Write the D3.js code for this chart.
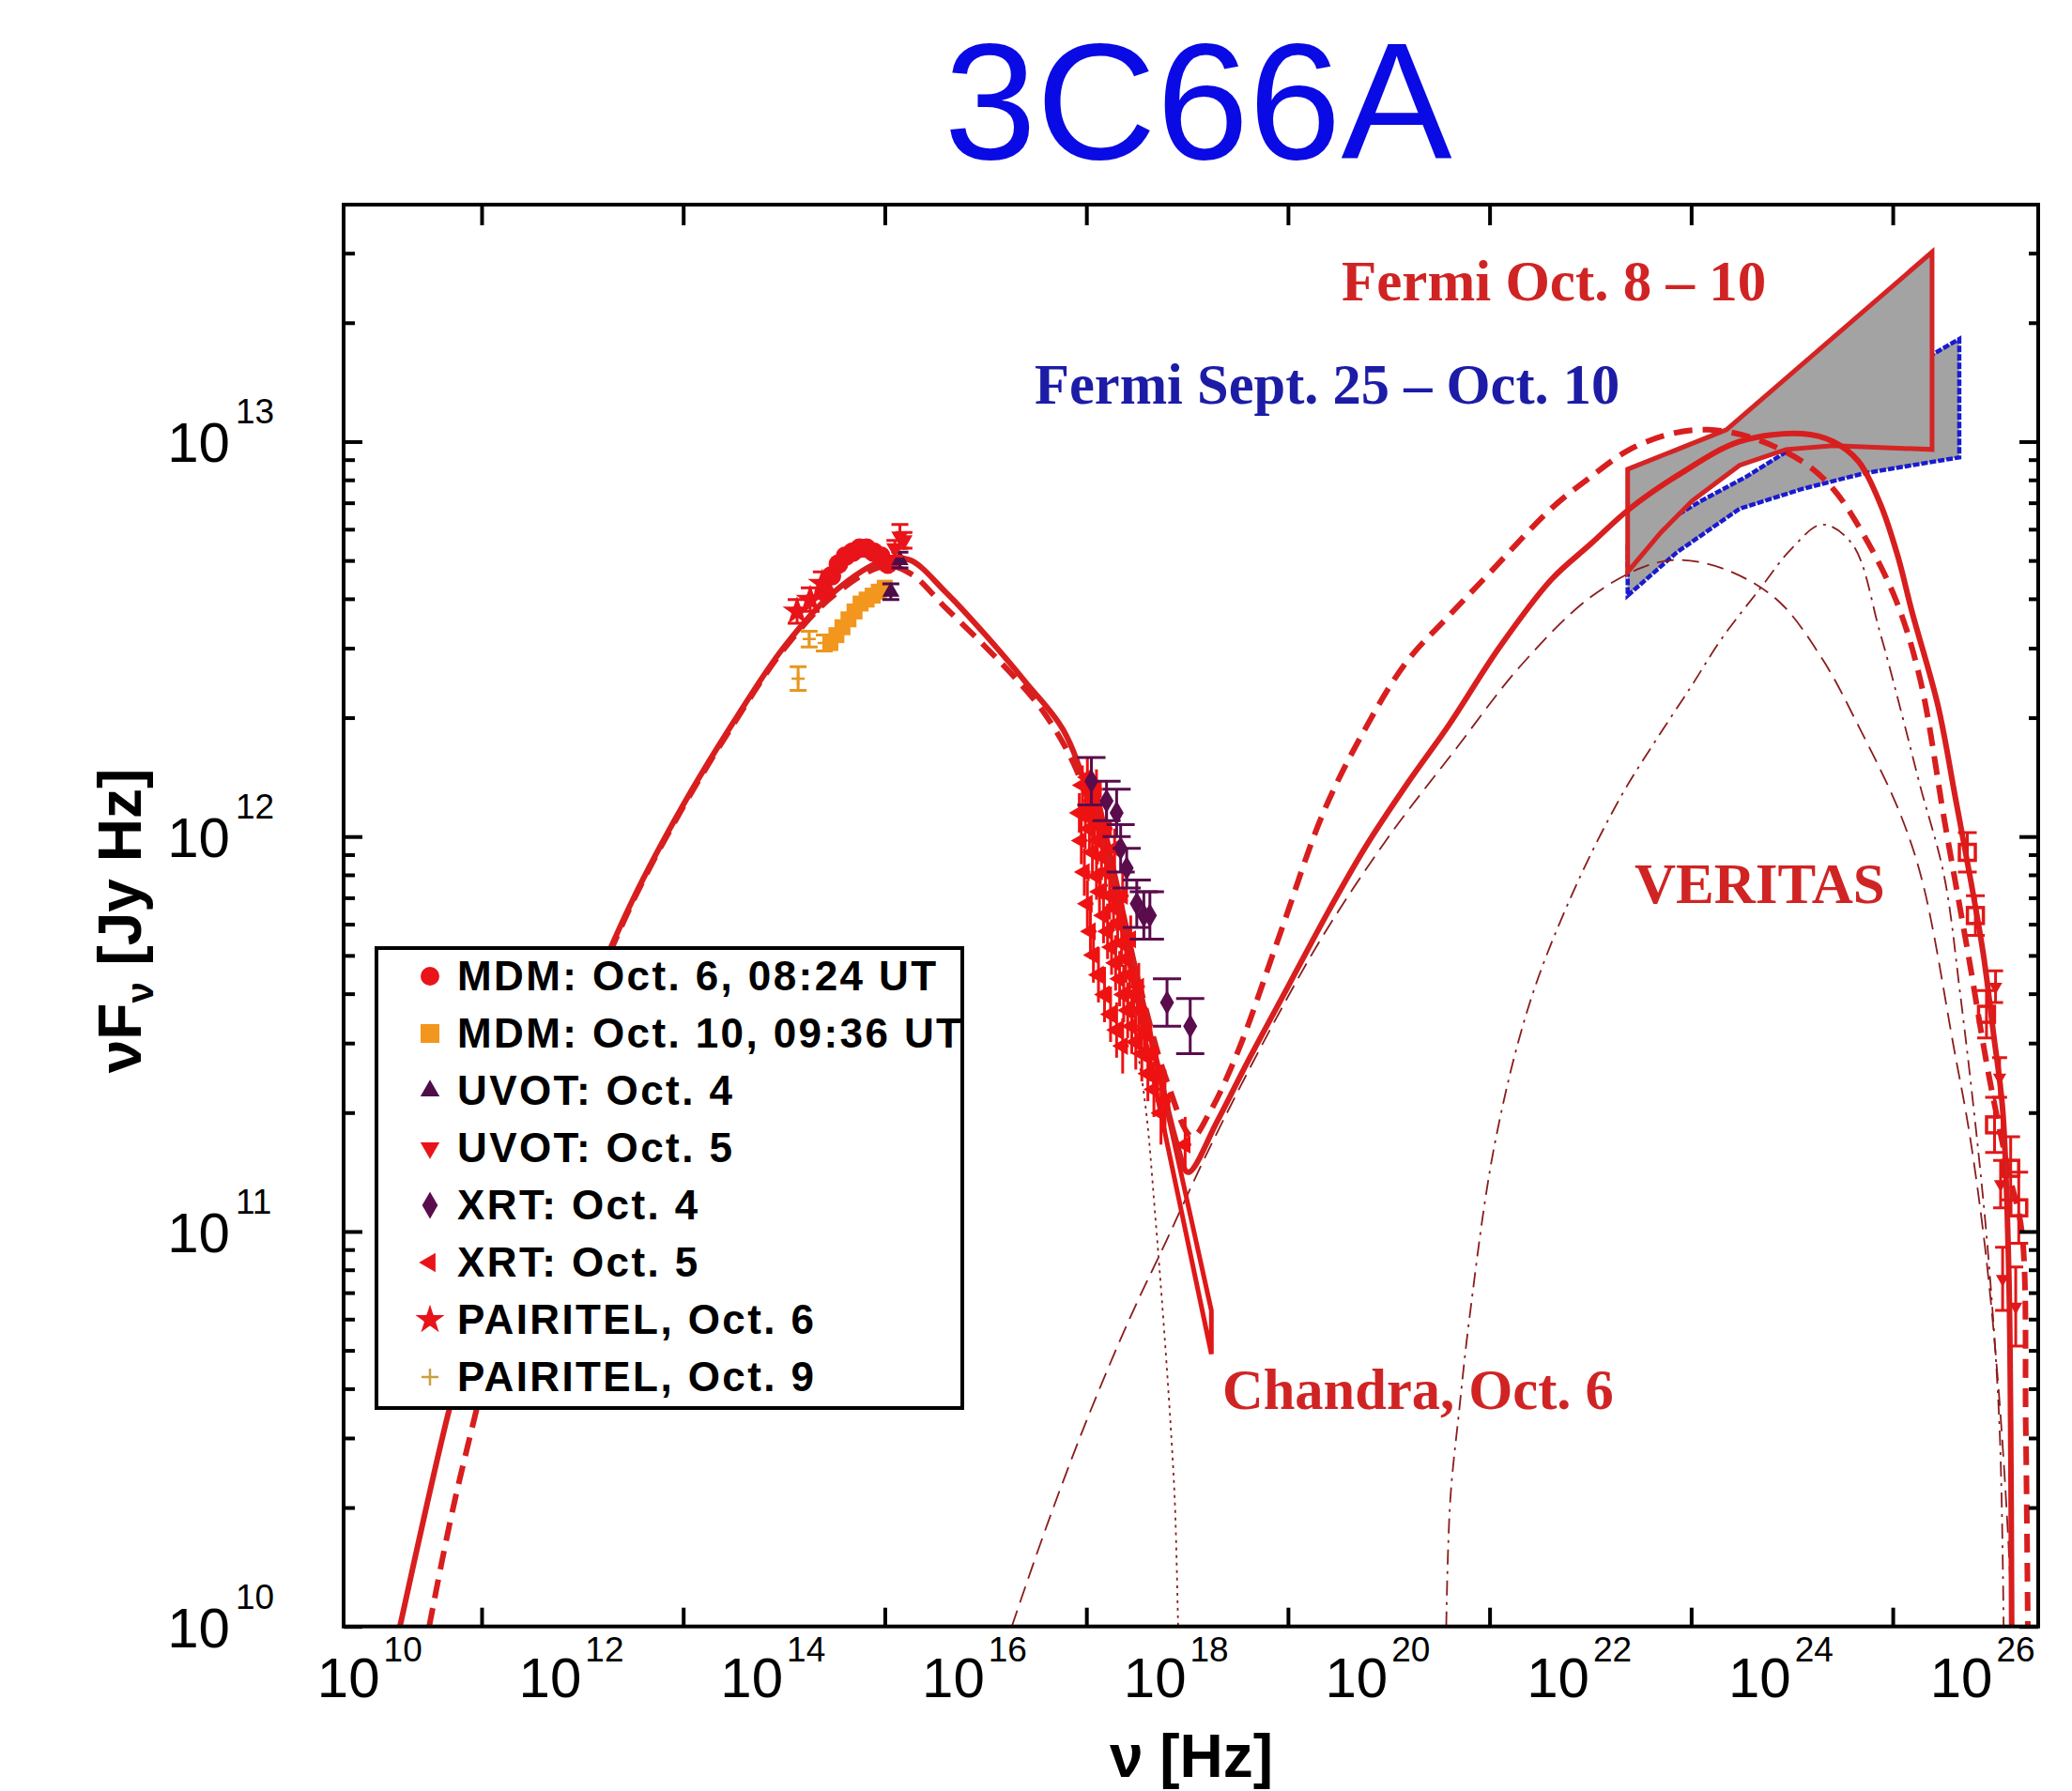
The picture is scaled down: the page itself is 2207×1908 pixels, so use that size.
<!DOCTYPE html>
<html><head><meta charset="utf-8">
<script src="https://cdn.jsdelivr.net/npm/d3@7"></script>
<style>body{margin:0;background:#fff}</style>
</head><body><svg id="c" width="2207" height="1908" xmlns="http://www.w3.org/2000/svg"></svg>
<script>
// ---------- DATA (log10 nu [Hz], log10 nuFnu [Jy Hz]) ----------
const xLabelDecades=[10,12,14,16,18,20,22,24,26];
const xTickMarks=[11,13,15,17,19,21,23,25];
const yLabelDecades=[10,11,12,13];

const solidModel=[[10.19,10.0],[10.45,10.30],[10.69,10.56],[11.0,10.84],[11.5,11.22],[12.0,11.55],[12.5,11.84],[13.0,12.08],[13.5,12.29],[14.0,12.48],[14.5,12.62],[15.0,12.70],[15.25,12.70],[15.6,12.62],[16.0,12.51],[16.4,12.39],[16.77,12.27],[17.05,12.08],[17.38,11.76],[17.68,11.45],[17.9,11.22],[18.01,11.15],[18.3,11.28],[18.6,11.43],[19.0,11.62],[19.4,11.81],[19.76,11.97],[20.2,12.14],[20.59,12.28],[21.1,12.48],[21.61,12.65],[22.0,12.74],[22.39,12.83],[22.9,12.92],[23.48,13.0],[24.1,13.02],[24.41,13.0],[24.66,12.95],[24.88,12.84],[25.05,12.71],[25.19,12.57],[25.45,12.33],[25.62,12.10],[25.78,11.88],[25.90,11.70],[26.0,11.50],[26.09,11.31],[26.15,10.91],[26.17,10.5],[26.18,10.0]];
const dashedModel=[[10.48,10.0],[10.7,10.28],[10.96,10.56],[11.5,11.12],[12.0,11.53],[12.5,11.835],[13.0,12.075],[13.5,12.285],[14.0,12.475],[14.5,12.612],[15.0,12.685],[15.26,12.665],[15.6,12.58],[16.0,12.48],[16.3,12.40],[16.59,12.31],[16.9,12.17],[17.2,11.94],[17.5,11.65],[17.8,11.38],[18.05,11.24],[18.22,11.30],[18.51,11.46],[18.93,11.76],[19.35,12.06],[19.76,12.27],[20.17,12.44],[20.6,12.56],[21.01,12.67],[21.61,12.83],[22.0,12.91],[22.39,12.98],[22.8,13.02],[23.17,13.03],[23.6,13.01],[24.1,12.95],[24.41,12.88],[24.72,12.76],[25.03,12.60],[25.27,12.40],[25.52,12.03],[25.75,11.70],[25.95,11.40],[26.15,11.15],[26.28,11.0],[26.32,10.5],[26.34,10.0]];
const sscComponent=[[16.26,10.0],[16.6,10.25],[17.0,10.52],[17.43,10.78],[17.8,10.98],[18.2,11.2],[18.8,11.5],[19.35,11.75],[20.0,12.0],[20.66,12.22],[21.3,12.43],[21.97,12.6],[22.5,12.68],[22.84,12.70],[23.3,12.68],[23.85,12.60],[24.3,12.45],[24.66,12.28],[25.07,12.06],[25.30,11.88],[25.61,11.46],[25.76,11.25],[25.92,10.95],[26.05,10.6],[26.15,10.2],[26.18,10.0]];
const ecComponent=[[20.57,10.0],[20.61,10.32],[20.7,10.55],[20.8,10.78],[21.05,11.22],[21.4,11.58],[21.83,11.86],[22.3,12.1],[22.64,12.24],[23.0,12.38],[23.3,12.5],[23.69,12.63],[24.0,12.73],[24.3,12.79],[24.6,12.74],[24.87,12.52],[25.1,12.3],[25.27,12.13],[25.51,11.9],[25.67,11.6],[25.85,11.2],[25.96,10.9],[26.06,10.5],[26.1,10.0]];
const syncComponent=[[17.2,11.88],[17.35,11.70],[17.45,11.55],[17.59,11.31],[17.68,11.05],[17.78,10.72],[17.85,10.45],[17.88,10.3],[17.91,10.0]];

const fermiRedUpper=[[22.37,12.93],[23.35,13.03],[25.39,13.48]];
const fermiRedLower=[[22.37,12.67],[22.70,12.77],[23.01,12.85],[23.48,12.94],[23.94,12.98],[24.41,12.99],[25.39,12.98]];
const fermiBlueUpper=[[22.37,12.74],[23.10,12.85],[23.54,12.91],[23.98,12.98],[24.7,13.10],[25.39,13.22],[25.66,13.26]];
const fermiBlueLower=[[22.37,12.61],[22.86,12.72],[23.48,12.83],[24.10,12.88],[24.72,12.92],[25.66,12.96]];
const chandraUpper=[[17.08,12.14],[18.24,10.80]];
const chandraLower=[[17.08,12.10],[18.24,10.69]];

// points: [logNu, logNuFnu, errDex]
const mdmOct6=[[14.40,12.62,0],[14.47,12.66,0],[14.54,12.69,0],[14.61,12.71,0],[14.68,12.72,0],[14.75,12.73,0],[14.82,12.73,0],[14.89,12.72,0],[14.96,12.71,0],[15.03,12.69,0]];
const mdmOct10=[[14.46,12.49,0],[14.52,12.51,0],[14.58,12.53,0],[14.64,12.55,0],[14.70,12.57,0],[14.76,12.59,0],[14.82,12.60,0],[14.88,12.61,0],[14.94,12.62,0],[15.00,12.63,0]];
const uvotOct4=[[15.06,12.62,0.02],[15.15,12.70,0.02]];
const uvotOct5=[[15.10,12.73,0.02],[15.15,12.76,0.03],[15.19,12.75,0.02]];
const xrtOct4=[[17.05,12.14,0.06],[17.20,12.09,0.05],[17.30,12.06,0.06],[17.34,11.97,0.06],[17.40,11.92,0.05],[17.50,11.83,0.06],[17.57,11.80,0.06],[17.63,11.80,0.06],[17.80,11.58,0.06],[18.03,11.52,0.07]];
const xrtOct5=[[16.93,12.06,0.05],[16.95,11.99,0.06],[16.96,12.13,0.05],[16.98,11.91,0.06],[16.99,12.06,0.05],[17.01,12.15,0.05],[17.01,11.83,0.06],[17.03,12.02,0.06],[17.04,11.76,0.07],[17.05,12.09,0.05],[17.06,11.96,0.06],[17.07,11.70,0.07],[17.08,12.04,0.05],[17.10,11.90,0.06],[17.10,12.12,0.05],[17.11,11.99,0.06],[17.12,11.65,0.07],[17.13,11.86,0.06],[17.15,11.95,0.06],[17.17,11.80,0.07],[17.18,11.60,0.07],[17.19,11.91,0.06],[17.20,12.02,0.05],[17.21,11.76,0.07],[17.23,11.85,0.06],[17.24,11.55,0.07],[17.25,11.72,0.07],[17.27,11.82,0.06],[17.28,11.97,0.05],[17.29,11.68,0.07],[17.30,11.51,0.07],[17.31,11.78,0.06],[17.33,11.64,0.07],[17.35,11.73,0.06],[17.36,11.47,0.07],[17.36,11.85,0.06],[17.37,11.60,0.07],[17.39,11.69,0.06],[17.41,11.56,0.07],[17.43,11.65,0.06],[17.44,11.74,0.06],[17.45,11.52,0.07],[17.47,11.60,0.06],[17.49,11.48,0.07],[17.52,11.56,0.06],[17.52,11.62,0.06],[17.55,11.45,0.07],[17.58,11.51,0.06],[17.59,11.50,0.07],[17.61,11.40,0.07],[17.64,11.45,0.07],[17.67,11.36,0.07],[17.70,11.40,0.07],[17.74,11.30,0.08],[17.78,11.33,0.08],[17.98,11.22,0.07]];
const pairitelOct6=[[14.13,12.57,0.03],[14.26,12.60,0.03],[14.38,12.64,0.03]];
const pairitelOct9=[[14.14,12.40,0.03],[14.25,12.50,0.02],[14.40,12.49,0.02]];
const veritasOpen=[[25.74,11.96,0.05],[25.82,11.80,0.05],[25.93,11.55,0.06],[26.01,11.27,0.07],[26.17,11.16,0.08],[26.25,11.06,0.09]];
const veritasFilled=[[26.02,11.62,0.04],[26.06,11.39,0.05],[26.07,11.12,0.06],[26.09,10.88,0.08],[26.22,10.81,0.1]];

const legendLabels=["MDM: Oct. 6, 08:24 UT","MDM: Oct. 10, 09:36 UT","UVOT: Oct. 4","UVOT: Oct. 5","XRT: Oct. 4","XRT: Oct. 5","PAIRITEL, Oct. 6","PAIRITEL, Oct. 9"];
const legendMarkers=["circle","square","triUp","triDown","diamond","triLeft","star","plus"];
const legendColors=["#e8141a","#f2961e","#4e0c48","#e8141a","#5a0c4c","#e8141a","#e8141a","#c9a040"];

// ---------- DRAW ----------
const svg=d3.select('#c');
const X0=366,X1=2171,Y0=218,Y1=1732.7;
const x=d3.scaleLog().domain([10**9.631,10**26.443]).range([X0,X1]);
const y=d3.scaleLog().domain([1e10,10**13.6]).range([Y1,Y0]);
const px=d=>x(10**d[0]), py=d=>y(10**d[1]);

svg.append('defs').append('clipPath').attr('id','clip').append('rect')
  .attr('x',X0).attr('y',Y0).attr('width',X1-X0).attr('height',Y1-Y0);
const plot=svg.append('g').attr('clip-path','url(#clip)');

// Title
svg.append('text').attr('x',1276).attr('y',169).attr('text-anchor','middle')
  .attr('font-family','Liberation Sans, Arial, sans-serif').attr('font-size',177)
  .attr('fill','#0a0ae4').text('3C66A');

// Fermi bowties
const lin=d3.line().x(px).y(py);
function bow(up,low){return up.concat(low.slice().reverse());}
plot.append('path').attr('d',lin(bow(fermiBlueUpper,fermiBlueLower))+'Z')
  .attr('fill','#a3a3a3').attr('stroke','#1a1ad0').attr('stroke-width',4.5).attr('stroke-dasharray','7,2');
plot.append('path').attr('d',lin(bow(fermiRedUpper,fermiRedLower))+'Z')
  .attr('fill','#a3a3a3').attr('stroke','#d42424').attr('stroke-width',5);

// thin components
const curve=d3.line().x(px).y(py).curve(d3.curveCatmullRom.alpha(0.5));
plot.append('path').attr('d',curve(sscComponent)).attr('fill','none')
  .attr('stroke','#8a1c1c').attr('stroke-width',1.8).attr('stroke-dasharray','18,9');
plot.append('path').attr('d',curve(ecComponent)).attr('fill','none')
  .attr('stroke','#8a1c1c').attr('stroke-width',1.8).attr('stroke-dasharray','16,7,3,7');
plot.append('path').attr('d',curve(syncComponent)).attr('fill','none')
  .attr('stroke','#8a1c1c').attr('stroke-width',1.8).attr('stroke-dasharray','3,5');

// Chandra bowtie
plot.append('path').attr('d',lin(bow(chandraUpper,chandraLower))+'Z')
  .attr('fill','none').attr('stroke','#e01818').attr('stroke-width',5);

// thick models
plot.append('path').attr('d',curve(dashedModel)).attr('fill','none')
  .attr('stroke','#d81e1e').attr('stroke-width',6).attr('stroke-dasharray','20,11');
plot.append('path').attr('d',curve(solidModel)).attr('fill','none')
  .attr('stroke','#d81e1e').attr('stroke-width',6);

// markers
function marker(g,type,cx,cy,s,color){
  const sym={circle:[d3.symbolCircle,Math.PI*s*s/4,0],square:[d3.symbolSquare,s*s,0],
    triUp:[d3.symbolTriangle,s*s*0.45,0],triDown:[d3.symbolTriangle,s*s*0.45,180],
    triLeft:[d3.symbolTriangle,s*s*0.45,-90],diamond:[d3.symbolDiamond,s*s*0.6,0],
    star:[d3.symbolStar,s*s*0.75,0]};
  if(type==='plus'){
    g.append('path').attr('d',`M${cx-s/2},${cy}H${cx+s/2}M${cx},${cy-s/2}V${cy+s/2}`)
      .attr('stroke',color).attr('stroke-width',2.5).attr('fill','none');return;
  }
  if(type==='openSquare'){
    g.append('rect').attr('x',cx-s/2).attr('y',cy-s/2).attr('width',s).attr('height',s)
      .attr('fill','none').attr('stroke',color).attr('stroke-width',3.5);return;
  }
  const [t,a,r]=sym[type];
  g.append('path').attr('d',d3.symbol().type(t).size(a)())
    .attr('transform',`translate(${cx},${cy}) rotate(${r})`).attr('fill',color);
  if(type==='star'){g.append('circle').attr('cx',cx).attr('cy',cy).attr('r',s*0.33).attr('fill',color);}
}
function series(data,type,s,color,cap,xerr){
  const g=plot.append('g');
  data.forEach(d=>{
    const cx=px(d),cy=py(d);
    if(d[2]>0){
      const ya=y(10**(d[1]+d[2])),yb=y(10**(d[1]-d[2]));
      g.append('path').attr('d',`M${cx},${ya}V${yb}M${cx-cap},${ya}H${cx+cap}M${cx-cap},${yb}H${cx+cap}`)
        .attr('stroke',color).attr('stroke-width',3).attr('fill','none');
    }
    if(xerr){
      const xa=x(10**(d[0]-xerr)),xb=x(10**(d[0]+xerr));
      g.append('path').attr('d',`M${xa},${cy}H${xb}`).attr('stroke',color).attr('stroke-width',3);
    }
    marker(g,type,cx,cy,s,color);
  });
}
series(pairitelOct9,'plus',14,'#e8961e',9,0);
series(mdmOct10,'square',17,'#f2961e',0,0);
series(mdmOct6,'circle',21,'#e8141a',0,0);
series(pairitelOct6,'star',20,'#e8141a',10,0);
series(uvotOct4,'triUp',18,'#4e0c48',9,0);
series(uvotOct5,'triDown',18,'#e8141a',9,0);
series(xrtOct5,'triLeft',19,'#ee1212',0,0.06);
series(xrtOct4,'diamond',18,'#5a0c4c',15,0);
series(veritasOpen,'openSquare',17,'#e01818',10,0);
series(veritasFilled,'triDown',14,'#e01818',8,0);

// frame + axes
const axG=svg.append('g');
axG.append('rect').attr('x',X0).attr('y',Y0).attr('width',X1-X0).attr('height',Y1-Y0)
  .attr('fill','none').attr('stroke','#000').attr('stroke-width',4);
function styleAxis(g){g.select('.domain').remove();g.selectAll('line').attr('stroke','#000').attr('stroke-width',4);g.selectAll('text').remove();}
const xt=xTickMarks.map(k=>10**k);
axG.append('g').attr('transform',`translate(0,${Y1})`).call(d3.axisBottom(x).tickValues(xt).tickSize(-20)).call(styleAxis);
axG.append('g').attr('transform',`translate(0,${Y0})`).call(d3.axisTop(x).tickValues(xt).tickSize(-22)).call(styleAxis);
const yMaj=yLabelDecades.map(k=>10**k);
const yMin=[];
[10,11,12,13].forEach(k=>{for(let m=2;m<=9;m++){const v=m*10**k;if(v<=10**13.6)yMin.push(v);}});
axG.append('g').attr('transform',`translate(${X0},0)`).call(d3.axisLeft(y).tickValues(yMaj).tickSize(-20)).call(styleAxis);
axG.append('g').attr('transform',`translate(${X0},0)`).call(d3.axisLeft(y).tickValues(yMin).tickSize(-12)).call(styleAxis);
axG.append('g').attr('transform',`translate(${X1},0)`).call(d3.axisRight(y).tickValues(yMaj).tickSize(-20)).call(styleAxis);
axG.append('g').attr('transform',`translate(${X1},0)`).call(d3.axisRight(y).tickValues(yMin).tickSize(-10)).call(styleAxis);

const ff='Liberation Sans, Arial, sans-serif';
xLabelDecades.forEach(k=>{
  const cx=x(10**k);
  svg.append('text').attr('x',cx-1).attr('y',1808).attr('text-anchor','end')
    .attr('font-family',ff).attr('font-size',60).text('10');
  svg.append('text').attr('x',cx+3).attr('y',1770).attr('text-anchor','start')
    .attr('font-family',ff).attr('font-size',37).text(k);
});
yLabelDecades.forEach(k=>{
  const cy=y(10**k);
  svg.append('text').attr('x',245).attr('y',cy+22).attr('text-anchor','end')
    .attr('font-family',ff).attr('font-size',60).text('10');
  svg.append('text').attr('x',251).attr('y',cy-19).attr('text-anchor','start')
    .attr('font-family',ff).attr('font-size',37).text(k);
});

// axis titles
svg.append('text').attr('x',1269).attr('y',1893).attr('text-anchor','middle')
  .attr('font-family',ff).attr('font-weight','bold').attr('font-size',64).text('ν [Hz]');
const yl=svg.append('text').attr('transform','translate(150,981) rotate(-90)').attr('text-anchor','middle')
  .attr('font-family',ff).attr('font-weight','bold').attr('font-size',64);
yl.append('tspan').text('νF');
yl.append('tspan').attr('dy',13).attr('font-size',40).text('ν');
yl.append('tspan').attr('dy',-13).text(' [Jy Hz]');

// annotations
const sf='Liberation Serif, Times New Roman, serif';
function ann(t,xx,yy,c,fs){svg.append('text').attr('x',xx).attr('y',yy).attr('font-family',sf)
  .attr('font-weight','bold').attr('font-size',fs).attr('fill',c).text(t);}
ann('Fermi Oct. 8 – 10',1429,320,'#d02424',61);
ann('Fermi Sept. 25 – Oct. 10',1102,430,'#1c1ca6',60.5);
ann('VERITAS',1741,962,'#d02424',61);
ann('Chandra, Oct. 6',1302,1501,'#d02424',60.5);

// legend
const lg=svg.append('g');
lg.append('rect').attr('x',401).attr('y',1010).attr('width',624).attr('height',490)
  .attr('fill','#fff').attr('stroke','#000').attr('stroke-width',4);
legendLabels.forEach((t,i)=>{
  const by=1055+i*61;
  marker(lg,legendMarkers[i],458,by-15,legendMarkers[i]==='plus'?18:20,legendColors[i]);
  lg.append('text').attr('x',487).attr('y',by).attr('font-family',ff).attr('font-weight','bold')
    .attr('font-size',44).attr('letter-spacing',2.4).text(t);
});
</script></body></html>
